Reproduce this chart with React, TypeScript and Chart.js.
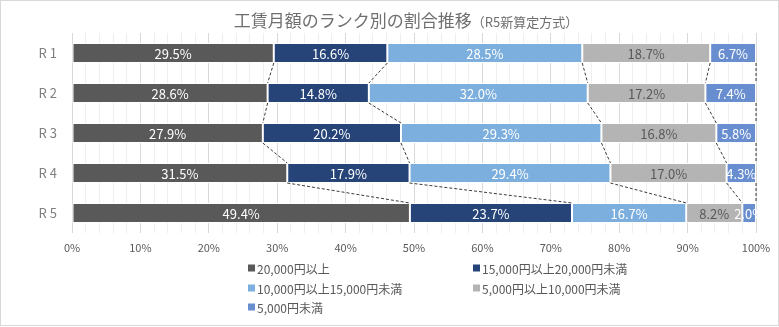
import React, { useEffect, useRef } from "react";
import { Chart, registerables } from "chart.js";

Chart.register(...registerables);

const categories = ["R 1", "R 2", "R 3", "R 4", "R 5"];
const seriesNames = [
  "20,000円以上",
  "15,000円以上20,000円未満",
  "10,000円以上15,000円未満",
  "5,000円以上10,000円未満",
  "5,000円未満",
];
const s20000 = [29.5, 28.6, 27.9, 31.5, 49.4];
const s15000 = [16.6, 14.8, 20.2, 17.9, 23.7];
const s10000 = [28.5, 32.0, 29.3, 29.4, 16.7];
const s5000 = [18.7, 17.2, 16.8, 17.0, 8.2];
const sUnder = [6.7, 7.4, 5.8, 4.3, 2.0];
const xTickValues = [0, 10, 20, 30, 40, 50, 60, 70, 80, 90, 100];

const seriesValues = [s20000, s15000, s10000, s5000, sUnder];
const colors = ["#595959", "#264478", "#7cafdd", "#b4b4b4", "#698ed0"];
const labelColors = ["#ffffff", "#ffffff", "#ffffff", "#595959", "#ffffff"];
const FONT = "'Noto Sans CJK JP', 'Noto Sans', sans-serif";

export default function App() {
  const ref = useRef<HTMLCanvasElement>(null);
  useEffect(() => {
    document.body.style.margin = "0";
    const sums = categories.map((_, i) => seriesValues.reduce((a, s) => a + s[i], 0));
    const datasets = seriesValues.map((vals, k) => ({
      label: seriesNames[k],
      data: vals.map((v, i) => (v / sums[i]) * 100),
      backgroundColor: colors[k],
      borderColor: "#ffffff",
      borderWidth: 1,
      borderSkipped: false as any,
      categoryPercentage: 0.5,
      barPercentage: 1,
    }));

    const overlay = {
      id: "overlay",
      afterDatasetsDraw(chart: any) {
        const ctx = chart.ctx;
        ctx.save();
        ctx.strokeStyle = "#3a3a3a";
        ctx.lineWidth = 1;
        ctx.setLineDash([3, 2]);
        for (let k = 0; k < datasets.length; k++) {
          const meta = chart.getDatasetMeta(k);
          for (let i = 0; i < categories.length - 1; i++) {
            const a = meta.data[i] as any;
            const b = meta.data[i + 1] as any;
            ctx.beginPath();
            ctx.moveTo(a.x, a.y + a.height / 2);
            ctx.lineTo(b.x, b.y - b.height / 2);
            ctx.stroke();
          }
        }
        ctx.setLineDash([]);
        ctx.font = `13px ${FONT}`;
        ctx.textAlign = "center";
        ctx.textBaseline = "middle";
        for (let k = 0; k < datasets.length; k++) {
          const meta = chart.getDatasetMeta(k);
          meta.data.forEach((el: any, i: number) => {
            ctx.fillStyle = labelColors[k];
            ctx.fillText(seriesValues[k][i].toFixed(1) + "%", (el.x + el.base) / 2, el.y + 1);
          });
        }
        ctx.restore();
      },
      afterDraw(chart: any) {
        const ctx = chart.ctx;
        ctx.save();
        const main = "工賃月額のランク別の割合推移";
        const sub = "（R5新算定方式）";
        ctx.textBaseline = "middle";
        ctx.textAlign = "left";
        ctx.font = `17px ${FONT}`;
        const w1 = ctx.measureText(main).width;
        ctx.font = `13px ${FONT}`;
        const w2 = ctx.measureText(sub).width;
        const start = 406 - (w1 + w2) / 2;
        ctx.fillStyle = "#6f6f6f";
        ctx.font = `17px ${FONT}`;
        ctx.fillText(main, start, 21);
        ctx.font = `13px ${FONT}`;
        ctx.fillText(sub, start + w1, 22);
        const cols = [248, 473];
        const rows = [268, 288, 307];
        ctx.font = `12px ${FONT}`;
        chart.data.datasets.forEach((ds: any, k: number) => {
          const x = cols[k % 2];
          const y = rows[Math.floor(k / 2)];
          ctx.fillStyle = ds.backgroundColor;
          ctx.fillRect(x, y - 3.5, 7, 7);
          ctx.fillStyle = "#595959";
          ctx.fillText(ds.label, x + 9, y + 1);
        });
        ctx.strokeStyle = "#d9d9d9";
        ctx.lineWidth = 1;
        ctx.strokeRect(0.5, 0.5, chart.width - 1, chart.height - 2);
        ctx.restore();
      },
    };

    const chart = new Chart(ref.current!, {
      type: "bar",
      data: { labels: categories, datasets: datasets as any },
      options: {
        indexAxis: "y",
        animation: false,
        responsive: true,
        maintainAspectRatio: false,
        layout: { padding: { left: 0, right: 23, top: 33, bottom: 0 } },
        plugins: { legend: { display: false }, tooltip: { enabled: false }, title: { display: false } },
        scales: {
          x: {
            stacked: true,
            min: 0,
            max: 100,
            afterBuildTicks(scale: any) {
              const t: any[] = [];
              for (let v = 0; v <= 100; v += 2) t.push({ value: v });
              scale.ticks = t;
            },
            afterFit(scale: any) {
              scale.height = 94;
            },
            border: { display: false },
            grid: {
              drawTicks: false,
              color: (c: any) => (c.tick && xTickValues.includes(c.tick.value) ? "#d9d9d9" : "#eeeeee"),
            },
            ticks: {
              autoSkip: false,
              maxRotation: 0,
              padding: 8,
              color: "#595959",
              font: { family: FONT, size: 11 },
              callback: (v: any) => (xTickValues.includes(Number(v)) ? v + "%" : ""),
            },
          },
          y: {
            stacked: true,
            afterFit(scale: any) {
              scale.width = 72;
            },
            border: { display: false },
            grid: { display: false, drawTicks: false },
            ticks: { padding: 15, color: "#7f7f7f", font: { family: FONT, size: 13 } },
          },
        },
      },
      plugins: [overlay],
    });
    return () => chart.destroy();
  }, []);
  return (
    <div style={{ width: 779, height: 327, position: "relative", background: "#fff" }}>
      <canvas ref={ref} />
    </div>
  );
}
